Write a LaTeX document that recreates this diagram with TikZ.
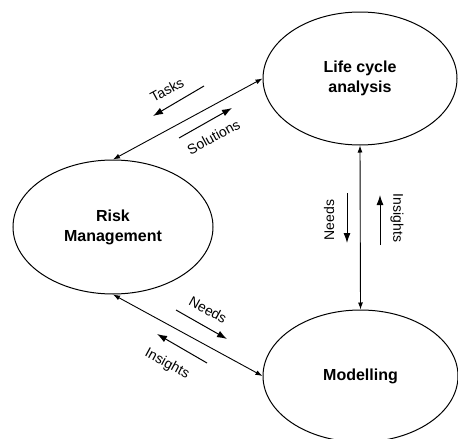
\documentclass[tikz,border=0pt]{standalone}
\usepackage{fontspec}
\setmainfont{Liberation Sans}
\usetikzlibrary{shapes.geometric,arrows.meta}
\begin{document}
\begin{tikzpicture}[x=1pt,y=-1pt,
  topic/.style={draw,ellipse,line width=1pt,inner sep=0pt,align=center,
    font=\fontsize{16}{20}\selectfont\bfseries},
  link/.style={line width=0.9pt,{Latex[length=7pt,width=5pt]}-{Latex[length=7pt,width=5pt]}},
  flow/.style={line width=1pt,-{Latex[length=10pt,width=7pt]}},
  tag/.style={font=\fontsize{14}{16}\selectfont,inner sep=0pt}]
\useasboundingbox (0,0) rectangle (458,439);
\begin{scope}
\clip (0,0) rectangle (458,439);
% the three topics
\node[topic,minimum width=194pt,minimum height=133pt] (lca) at (360,78.5) {Life cycle\\analysis};
\node[topic,minimum width=200pt,minimum height=134pt] (risk) at (113,227) {Risk\\Management};
\node[topic,minimum width=195pt,minimum height=132pt] (model) at (360.5,376) {Modelling};
\end{scope}

% two-way links between topics
\draw[link] (risk.north) -- (lca.west);
\draw[link] (risk.south) -- (model.west);
\draw[link] (lca.south) -- (model.north);

% risk management <-> life cycle analysis
\coordinate (t1) at (204,86);  \coordinate (t2) at (153,116);
\coordinate (s1) at (179,138); \coordinate (s2) at (232,108);
\draw[flow] (t1) -- (t2);
\draw[flow] (s1) -- (s2);
\node[tag,rotate=28.5] (tasks) at (167,90) {Tasks};
\node[tag,rotate=28.5] (sol) at (213.5,137) {Solutions};

% life cycle analysis <-> modelling
\coordinate (n1) at (347,193); \coordinate (n2) at (347,243);
\coordinate (i1) at (380,245); \coordinate (i2) at (380,195);
\draw[flow] (n1) -- (n2);
\draw[flow] (i1) -- (i2);
\node[tag,rotate=90] (needsv) at (329,220) {Needs};
\node[tag,rotate=-90] (insv) at (397,218) {Insights};

% risk management <-> modelling
\coordinate (m1) at (176,310); \coordinate (m2) at (227,339);
\coordinate (k1) at (207,363); \coordinate (k2) at (157,334);
\draw[flow] (m1) -- (m2);
\draw[flow] (k1) -- (k2);
\node[tag,rotate=-28.5] (needsd) at (208,310) {Needs};
\node[tag,rotate=-28.5] (insd) at (167,364) {Insights};
\end{tikzpicture}
\end{document}
